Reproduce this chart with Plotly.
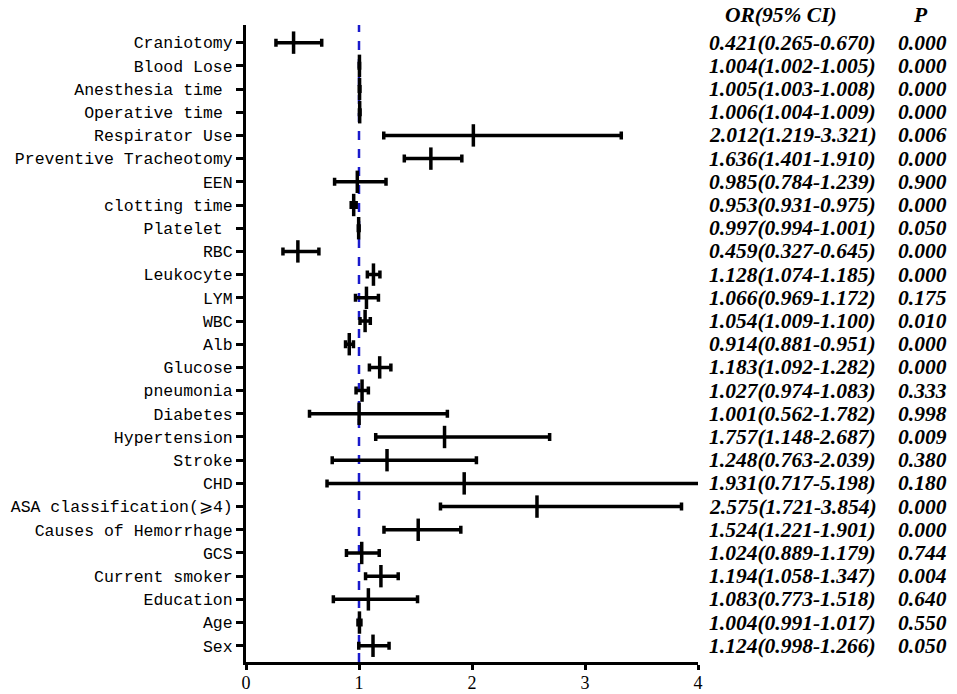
import plotly.graph_objects as go

# Forest plot data (top to bottom).
factors = ["Craniotomy", "Blood Lose", "Anesthesia time\u00a0", "Operative time\u00a0",
           "Respirator Use", "Preventive Tracheotomy", "EEN", "clotting time",
           "Platelet\u00a0", "RBC", "Leukocyte", "LYM", "WBC", "Alb", "Glucose",
           "pneumonia", "Diabetes", "Hypertension", "Stroke", "CHD",
           "ASA classification(\u2a7e4)", "Causes of Hemorrhage", "GCS",
           "Current smoker", "Education", "Age", "Sex"]
odds = [0.421, 1.004, 1.005, 1.006, 2.012, 1.636, 0.985, 0.953, 0.997, 0.459,
        1.128, 1.066, 1.054, 0.914, 1.183, 1.027, 1.001, 1.757, 1.248, 1.931,
        2.575, 1.524, 1.024, 1.194, 1.083, 1.004, 1.124]
lower = [0.265, 1.002, 1.003, 1.004, 1.219, 1.401, 0.784, 0.931, 0.994, 0.327,
         1.074, 0.969, 1.009, 0.881, 1.092, 0.974, 0.562, 1.148, 0.763, 0.717,
         1.721, 1.221, 0.889, 1.058, 0.773, 0.991, 0.998]
upper = [0.670, 1.005, 1.008, 1.009, 3.321, 1.910, 1.239, 0.975, 1.001, 0.645,
         1.185, 1.172, 1.100, 0.951, 1.282, 1.083, 1.782, 2.687, 2.039, 5.198,
         3.854, 1.901, 1.179, 1.347, 1.518, 1.017, 1.266]
p_values = ["0.000", "0.000", "0.000", "0.000", "0.006", "0.000", "0.900", "0.000",
            "0.050", "0.000", "0.000", "0.175", "0.010", "0.000", "0.000", "0.333",
            "0.998", "0.009", "0.380", "0.180", "0.000", "0.000", "0.744", "0.004",
            "0.640", "0.550", "0.050"]

err_plus = [u - o for u, o in zip(upper, odds)]
err_minus = [o - l for o, l in zip(odds, lower)]

fig = go.Figure()
fig.add_trace(go.Scatter(
    x=odds, y=factors, mode="markers",
    marker=dict(symbol="line-ns", size=16, line=dict(width=3.5, color="black")),
    error_x=dict(type="data", symmetric=False, array=err_plus, arrayminus=err_minus,
                 color="black", thickness=3.5, width=4),
    showlegend=False,
))

# Reference line at OR = 1.
fig.add_shape(type="line", x0=1, x1=1, xref="x", y0=0, y1=1, yref="paper",
              line=dict(color="#1a1acc", width=2.5, dash="dash"), layer="below")

# Text columns on the right.
txt_font = dict(family="Liberation Serif", size=21.5, color="black")
for f, o, l, u, p in zip(factors, odds, lower, upper, p_values):
    fig.add_annotation(x=1.21, xref="paper", xanchor="center", y=f, yref="y",
                       showarrow=False, font=txt_font,
                       text=f"<b><i>{o:.3f}({l:.3f}-{u:.3f})</i></b>")
    fig.add_annotation(x=1.497, xref="paper", xanchor="center", y=f, yref="y",
                       showarrow=False, font=txt_font, text=f"<b><i>{p}</i></b>")
fig.add_annotation(x=1.183, xref="paper", xanchor="center", y=1.016, yref="paper",
                   yanchor="middle", showarrow=False, font=txt_font,
                   text="<b><i>OR(95% CI)</i></b>")
fig.add_annotation(x=1.493, xref="paper", xanchor="center", y=1.016, yref="paper",
                   yanchor="middle", showarrow=False, font=txt_font,
                   text="<b><i>P</i></b>")

fig.update_xaxes(range=[0, 4], tickvals=[0, 1, 2, 3, 4], showgrid=False, zeroline=False,
                 showline=True, linecolor="black", linewidth=3, automargin=False,
                 ticks="outside", ticklen=5, tickwidth=3, tickcolor="black",
                 ticklabelstandoff=-3,
                 tickfont=dict(family="Liberation Serif", size=18, color="black"))
fig.update_yaxes(type="category", range=[26.70, -0.76], showgrid=False, zeroline=False,
                 showline=True, linecolor="black", linewidth=3, automargin=False,
                 ticks="outside", ticklen=7, tickwidth=3, tickcolor="black",
                 tickfont=dict(family="Liberation Mono", size=16.5, color="black"))

fig.update_layout(width=957, height=694, plot_bgcolor="white", paper_bgcolor="white",
                  margin=dict(l=246, r=259, t=25, b=32))

# Drop the default page margin so the figure fills the window; hide the modebar.
fig.write_html("out.html", config={"displayModeBar": False},
               post_script="document.body.style.margin = '0';")
